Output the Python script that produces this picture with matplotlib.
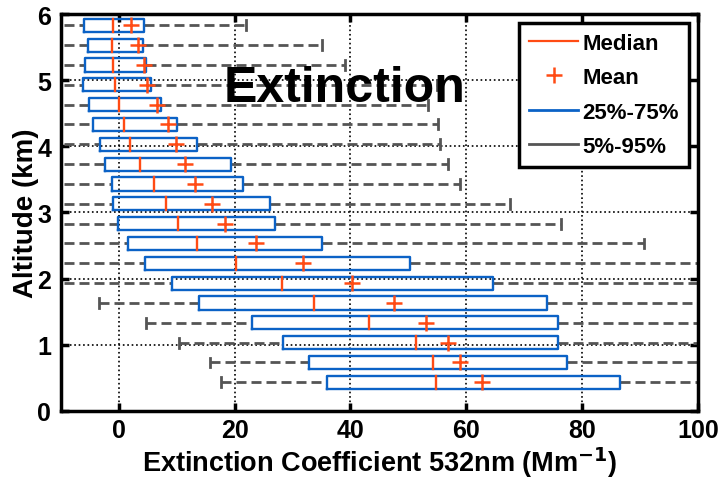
import numpy as np
import matplotlib
matplotlib.use('Agg')
import matplotlib.pyplot as plt
from matplotlib.lines import Line2D

plt.rcParams['font.family'] = ['Liberation Sans', 'DejaVu Sans']
plt.rcParams['font.weight'] = 'bold'

# altitude bins (km), bottom to top
altitude = [0.43, 0.73, 1.03, 1.33, 1.63, 1.93, 2.23, 2.53, 2.83, 3.13,
            3.43, 3.73, 4.03, 4.33, 4.63, 4.93, 5.23, 5.53, 5.83]
# extinction statistics (Mm-1)
p5 = [17.6, 15.8, 10.4, 4.6, -3.4, -12, -12, -12, -12, -12,
      -12, -12, -12, -12, -12, -12, -12, -12, -12]
p25 = [35.9, 32.8, 28.3, 23.0, 13.9, 9.2, 4.5, 1.6, -0.1, -1.0,
       -1.25, -2.4, -3.3, -4.4, -5.2, -6.2, -5.8, -5.4, -6.0]
median = [54.7, 54.3, 51.3, 43.2, 33.7, 28.2, 20.2, 13.5, 10.2, 8.1,
          6.1, 3.6, 1.9, 0.86, 0.0, -0.7, -1.1, -1.25, -1.1]
mean = [62.8, 59.0, 56.9, 53.1, 47.6, 40.3, 31.8, 23.7, 18.3, 16.1,
        13.1, 11.5, 9.9, 8.5, 6.5, 4.9, 4.3, 3.3, 2.1]
p75 = [86.6, 77.4, 75.8, 75.8, 73.9, 64.6, 50.2, 35.1, 27.0, 26.1,
       21.4, 19.4, 13.5, 10.0, 7.3, 5.5, 4.6, 4.2, 4.3]
p95 = [110, 110, 110, 110, 110, 110, 110, 90.7, 76.3, 67.5,
       58.9, 56.9, 55.4, 55.2, 53.4, 55.0, 39.1, 35.1, 21.9]

c_med = '#ff4b14'
c_box = '#0b62c6'
c_wsk = '#555555'
box_h = 0.2
cap_h = 0.15

fig = plt.figure(figsize=(7.22, 4.85), dpi=100)
ax = fig.add_axes([0.0845, 0.151, 0.882, 0.818])

for y, a, b, m, mu, c, d in zip(altitude, p5, p25, median, mean, p75, p95):
    # whiskers
    ax.plot([a, b], [y, y], color=c_wsk, lw=2.0, ls=(0, (3.6, 1.8)), zorder=2)
    ax.plot([c, d], [y, y], color=c_wsk, lw=2.0, ls=(0, (3.6, 1.8)), zorder=2)
    ax.plot([a, a], [y - cap_h / 2, y + cap_h / 2], color=c_wsk, lw=2.0, zorder=2)
    ax.plot([d, d], [y - cap_h / 2, y + cap_h / 2], color=c_wsk, lw=2.0, zorder=2)
    # box
    ax.plot([b, c, c, b, b], [y - box_h / 2, y - box_h / 2, y + box_h / 2, y + box_h / 2, y - box_h / 2],
            color=c_box, lw=1.7, zorder=3)
    # median and mean
    ax.plot([m, m], [y - box_h / 2, y + box_h / 2], color=c_med, lw=1.7, zorder=4)
    ax.plot(mu, y, marker='+', color=c_med, ms=12, mew=1.8, zorder=4)

ax.set_xlim(-10, 100)
ax.set_ylim(0, 6)
ax.set_xticks([0, 20, 40, 60, 80, 100])
ax.set_yticks([0, 1, 2, 3, 4, 5, 6])
ax.grid(True, color='black', ls=':', lw=1.2)
ax.set_axisbelow(True)
ax.tick_params(direction='in', length=6, width=2.5, top=True, right=True, labelsize=18)
ax.tick_params(axis='x', pad=5)
ax.tick_params(axis='y', pad=7)
for s in ax.spines.values():
    s.set_linewidth(2.5)
for lab in ax.get_xticklabels() + ax.get_yticklabels():
    lab.set_fontweight('bold')

ax.set_xlabel('Extinction Coefficient 532nm (Mm$^{\\mathbf{-1}}$)', fontsize=19.5, fontweight='bold', labelpad=2)
ax.set_ylabel('Altitude (km)', fontsize=20, fontweight='bold', labelpad=-1)

ax.text(0.255, 0.78, 'Extinction', transform=ax.transAxes, fontsize=36, fontweight='bold',
        va='baseline', ha='left', zorder=6)

handles = [Line2D([], [], color=c_med, lw=1.6),
           Line2D([], [], color=c_med, ls='none', marker='+', ms=12, mew=1.8),
           Line2D([], [], color=c_box, lw=2),
           Line2D([], [], color=c_wsk, lw=2)]
leg = ax.legend(handles, ['Median', 'Mean', '25%-75%', '5%-95%'], loc='upper right',
                prop={'weight': 'bold', 'size': 16}, fancybox=False, framealpha=1,
                edgecolor='black', handlelength=2.2, handletextpad=0.2, borderpad=0.45,
                labelspacing=0.6, borderaxespad=0.4)
leg.get_frame().set_linewidth(2.5)
leg.set_zorder(7)

fig.savefig('out.png', dpi=100)
